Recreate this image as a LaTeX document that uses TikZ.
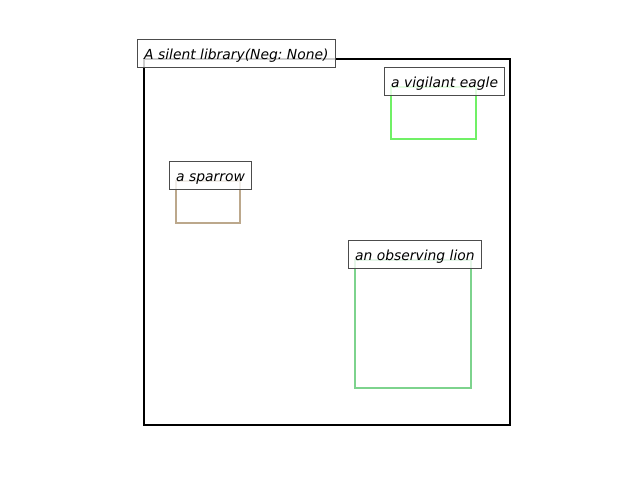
\documentclass[tikz,border=0pt]{standalone}
\usepackage{fontspec}
\setmainfont{DejaVu Sans}
\frenchspacing
\definecolor{eagleGreen}{HTML}{70F066}
\definecolor{sparrowTan}{HTML}{BCA88C}
\definecolor{lionGreen}{HTML}{7DD38D}
\begin{document}
\begin{tikzpicture}[
  x=0.75pt, y=-0.75pt,
  boxLine/.style={line width=1.5pt},
  labelBox/.style={draw=black!70, line width=0.8pt, fill=white, fill opacity=0.8, text opacity=1,
    anchor=base west, inner xsep=5pt, inner ysep=3.4pt,
    text height=10.9pt, text depth=2.8pt, font=\fontsize{10.4}{12}\selectfont\itshape,
    xshift=-5.25pt}
  ]
  \useasboundingbox (0,0) rectangle (640,480);
  % image frame and boxes
  \draw[boxLine, black] (144,59) coordinate (sceneTL) rectangle (510,425);
  \draw[boxLine, eagleGreen] (391,87) coordinate (eagleTL) rectangle (476,139);
  \draw[boxLine, sparrowTan] (176,181) coordinate (sparrowTL) rectangle (240,223);
  \draw[boxLine, lionGreen] (355,260) coordinate (lionTL) rectangle (471,388);
  % labels
  \node[labelBox] (sceneLabel) at (sceneTL) {A silent library(Neg: None)};
  \node[labelBox] (eagleLabel) at (eagleTL) {a vigilant eagle};
  \node[labelBox] (sparrowLabel) at (sparrowTL) {a sparrow};
  \node[labelBox] (lionLabel) at (lionTL) {an observing lion};
\end{tikzpicture}
\end{document}
